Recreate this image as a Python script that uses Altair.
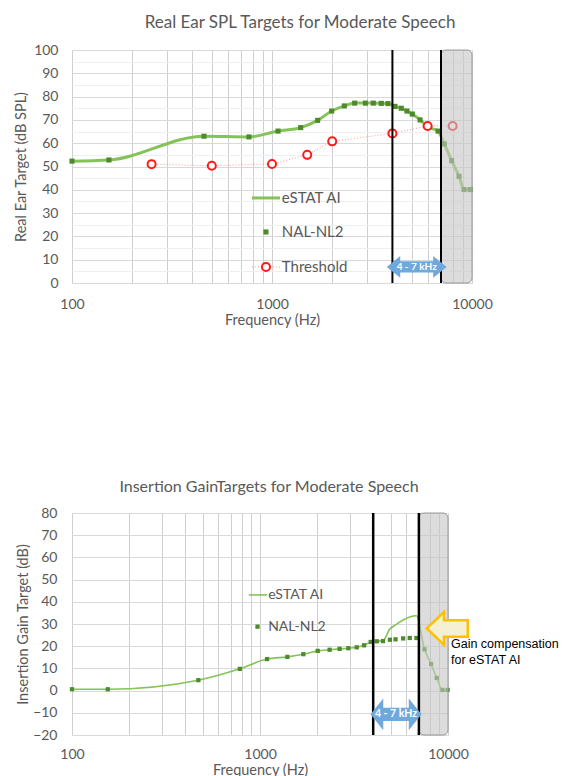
import math
import altair as alt
import pandas as pd

# ---------------- data: Real Ear SPL (top) ----------------
top_freq = [100, 153, 457, 767, 1072, 1391, 1691, 1988, 2300, 2590, 2930, 3210, 3520,
            3800, 4120, 4430, 4730, 5030, 5500, 6030, 6760, 7270, 7910, 8610, 9120, 9790]
top_estat = [52.3, 52.8, 63.0, 62.7, 65.2, 66.7, 69.8, 73.8, 76.0, 77.2, 77.2, 77.2, 77.1,
             77.0, 75.8, 75.0, 73.8, 72.5, 70.0, 66.9, 65.2, 59.7, 52.5, 45.8, 40.1, 40.1]
top_nal = [52.3, 52.8, 63.0, 62.7, 65.2, 66.7, 69.8, 73.8, 76.0, 77.2, 77.2, 77.2, 77.1,
           77.0, 75.8, 75.0, 73.8, 72.5, 70.0, 66.9, 65.2, 59.7, 52.5, 45.8, 40.1, 40.1]
thr_freq = [250, 500, 1000, 1500, 2000, 4000, 6000, 8000]
thr_val = [51.0, 50.3, 51.1, 55.0, 60.8, 64.2, 67.4, 67.4]

# ---------------- data: Insertion gain (bottom) ----------------
bot_freq = [100, 155, 470, 781, 1090, 1398, 1700, 2028, 2345, 2650, 2950, 3270, 3580,
            3880, 4180, 4510, 4910, 5260, 5775, 6260, 6790, 7500, 8130, 8710, 9340, 9950]
bot_estat = [0.6, 0.6, 4.7, 9.8, 14.2, 15.2, 16.4, 17.9, 18.4, 18.8, 19.1, 19.5, 20.4,
             21.9, 22.2, 22.5, 27.8, 29.6, 31.8, 33.2, 33.7, 18.6, 12.0, 5.7, 0.3, 0.3]
bot_nal = [0.6, 0.6, 4.7, 9.8, 14.2, 15.2, 16.4, 17.9, 18.4, 18.8, 19.1, 19.5, 20.4,
           21.9, 22.2, 22.3, 22.9, 23.1, 23.5, 23.7, 23.7, 18.6, 12.0, 5.7, 0.3, 0.3]

x_grid = [100, 200, 300, 400, 500, 600, 700, 800, 900,
          1000, 2000, 3000, 4000, 5000, 6000, 7000, 8000, 9000, 10000]
top_legend_labels = ["eSTAT AI", "NAL-NL2", "Threshold"]
bot_legend_labels = ["eSTAT AI", "NAL-NL2"]
band_edges = [4000, 7000]
band_label = "4 - 7 kHz"
shade_range = [7000, 10000]
note_text = ["Gain compensation", "for eSTAT AI"]

# ---------------- styles ----------------
LIGHT = "#84c35a"
DARK = "#4e8a2c"
RED = "#ff1a1a"
PINK = "#f29a9a"
TXT = "#595959"
BLUE = "#6fa9dc"
FONT = "Lato"

ARROW_TOP = ("M-1,0 L-0.55,-0.36 L-0.55,-0.19 L0.55,-0.19 L0.55,-0.36 L1,0 "
             "L0.55,0.36 L0.55,0.19 L-0.55,0.19 L-0.55,0.36 Z")
ARROW_BOT = ("M-1,0 L-0.5,-0.62 L-0.5,-0.26 L0.5,-0.26 L0.5,-0.62 L1,0 "
             "L0.5,0.62 L0.5,0.26 L-0.5,0.26 L-0.5,0.62 Z")
ARROW_LEFT = "M-1,0 L-0.16,-0.8 L-0.16,-0.4 L1,-0.4 L1,0.4 L-0.16,0.4 L-0.16,0.8 Z"

LABEL_EXPR = "(datum.value == 100 || datum.value == 1000 || datum.value == 10000) ? datum.label : ''"


def x_enc(label_pad, title_pad, field="f"):
    return alt.X(f"{field}:Q",
                 scale=alt.Scale(type="log", domain=[100, 10000], nice=False),
                 axis=alt.Axis(values=x_grid, format="d", labelExpr=LABEL_EXPR,
                               labelFlush=False, labelOverlap=False,
                               title="Frequency (Hz)", domain=False, ticks=False,
                               labelPadding=label_pad, titlePadding=title_pad,
                               gridColor="#cfcfcf"))


def y_top(field="v"):
    return alt.Y(f"{field}:Q", scale=alt.Scale(domain=[0, 100], nice=False),
                 axis=alt.Axis(values=list(range(0, 101, 5)),
                               labelExpr="datum.value % 10 == 0 ? datum.label : ''",
                               gridColor={"condition": {"test": "datum.value % 10 == 0",
                                                        "value": "#d9d9d9"},
                                          "value": "#efefef"},
                               title="Real Ear Target (dB SPL)", domain=False, ticks=False,
                               labelPadding=14, titlePadding=5))


def y_bot(field="v"):
    return alt.Y(f"{field}:Q", scale=alt.Scale(domain=[-20, 80], nice=False),
                 axis=alt.Axis(values=list(range(-20, 81, 10)),
                               gridColor="#d9d9d9",
                               title="Insertion Gain Target (dB)", domain=False, ticks=False,
                               labelPadding=15, titlePadding=2))


# ================= TOP CHART =================
XT = x_enc(14, 2)
YT = y_top()

top_df = pd.DataFrame({"f": top_freq, "estat": top_estat, "nal": top_nal})
thr_df = pd.DataFrame({"f": thr_freq, "v": thr_val})

t_line = alt.Chart(top_df).mark_line(color=LIGHT, strokeWidth=3, interpolate="monotone").encode(
    x=XT, y=y_top("estat"))
t_nal = alt.Chart(top_df).mark_point(shape="square", filled=True, color=DARK, size=26, opacity=1).encode(
    x=XT, y=y_top("nal"))
t_thr_line = alt.Chart(thr_df).mark_line(color=PINK, strokeWidth=1, strokeDash=[1, 2]).encode(x=XT, y=YT)
t_thr_pts = alt.Chart(thr_df).mark_point(shape="circle", filled=True, fill="white", stroke=RED,
                                          strokeWidth=2, size=65, opacity=1).encode(x=XT, y=YT)

t_shade = alt.Chart(pd.DataFrame({"f": [shade_range[0]], "f2": [shade_range[1]],
                                  "v": [0], "v2": [100]})).mark_rect(
    cornerRadius=5, fill="#c4c4c4", fillOpacity=0.6, stroke="#9a9a9a", strokeWidth=1).encode(
    x=XT, x2="f2:Q", y=YT, y2="v2:Q")
t_rules = alt.Chart(pd.DataFrame({"f": band_edges})).mark_rule(color="black", strokeWidth=2).encode(x=XT)

band_mid = math.sqrt(band_edges[0] * band_edges[1])
t_arrow_df = pd.DataFrame({"f": [band_mid], "v": [6.9]})
t_arrow = alt.Chart(t_arrow_df).mark_point(shape=ARROW_TOP, size=60 * 60, filled=True, color=BLUE,
                                           opacity=1, strokeWidth=0).encode(x=XT, y=YT)
t_arrow_txt = alt.Chart(t_arrow_df).mark_text(text=band_label, color="white", fontWeight="bold",
                                              fontSize=10, font=FONT).encode(x=XT, y=YT)

# legend (top)
tl_line = alt.Chart(pd.DataFrame({"f": [794], "f2": [1096], "v": [36.5]})).mark_rule(
    color=LIGHT, strokeWidth=3).encode(x=XT, x2="f2:Q", y=YT)
tl_sq = alt.Chart(pd.DataFrame({"f": [933], "v": [21.9]})).mark_point(
    shape="square", filled=True, color=DARK, size=26, opacity=1).encode(x=XT, y=YT)
tl_dot = alt.Chart(pd.DataFrame({"f": [794], "f2": [1096], "v": [6.9]})).mark_rule(
    color=PINK, strokeWidth=1, strokeDash=[1, 2]).encode(x=XT, x2="f2:Q", y=YT)
tl_circ = alt.Chart(pd.DataFrame({"f": [933], "v": [6.9]})).mark_point(
    shape="circle", filled=True, fill="white", stroke=RED, strokeWidth=2, size=65, opacity=1).encode(x=XT, y=YT)
tl_txt = alt.Chart(pd.DataFrame({"f": [1120] * 3, "v": [36.5, 21.9, 6.9], "t": top_legend_labels})).mark_text(
    align="left", baseline="middle", fontSize=15, color=TXT, font=FONT).encode(x=XT, y=YT, text="t:N")

top = alt.layer(t_line, t_nal, t_thr_line, t_thr_pts, t_shade, t_rules, t_arrow, t_arrow_txt,
                tl_line, tl_sq, tl_dot, tl_circ, tl_txt).properties(
    width=400, height=233,
    title=alt.TitleParams("Real Ear SPL Targets for Moderate Speech", dx=28, offset=11, fontSize=17))

# ================= BOTTOM CHART =================
XB = x_enc(12, 2)
YB = y_bot()

bot_df = pd.DataFrame({"f": bot_freq, "estat": bot_estat, "nal": bot_nal})

b_line = alt.Chart(bot_df).mark_line(color=LIGHT, strokeWidth=1.6, interpolate="monotone").encode(
    x=XB, y=y_bot("estat"))
b_nal = alt.Chart(bot_df).mark_point(shape="square", filled=True, color=DARK, size=18, opacity=1).encode(
    x=XB, y=y_bot("nal"))
b_shade = alt.Chart(pd.DataFrame({"f": [shade_range[0]], "f2": [shade_range[1]],
                                  "v": [-20], "v2": [80]})).mark_rect(
    cornerRadius=5, fill="#c4c4c4", fillOpacity=0.6, stroke="#9a9a9a", strokeWidth=1).encode(
    x=XB, x2="f2:Q", y=YB, y2="v2:Q")
b_rules = alt.Chart(pd.DataFrame({"f": band_edges})).mark_rule(color="black", strokeWidth=2.5).encode(x=XB)
b_arrow_df = pd.DataFrame({"f": [band_mid], "v": [-10.7]})
b_arrow = alt.Chart(b_arrow_df).mark_point(shape=ARROW_BOT, size=51 * 51, filled=True, color=BLUE,
                                           opacity=1, strokeWidth=0).encode(x=XB, y=YB)
b_arrow_txt = alt.Chart(b_arrow_df).mark_text(text=band_label, color="white", fontWeight="bold",
                                              fontSize=10.5, font=FONT).encode(x=XB, y=YB)

# yellow "gain compensation" arrow + note
b_yarrow = alt.Chart(pd.DataFrame({"f": [9910], "v": [28.0]})).mark_point(
    shape=ARROW_LEFT, size=41 * 41, filled=True, fill="#f6f0d2", stroke="#ffc000",
    strokeWidth=2.5, opacity=1).encode(x=XB, y=YB)
b_note = alt.Chart(pd.DataFrame({"f": [10370], "v": [23.6]})).mark_text(
    text=note_text, align="left", baseline="top", fontSize=12.5, lineHeight=16,
    color="black", font="Liberation Sans").encode(x=XB, y=YB)

# legend (bottom)
bl_line = alt.Chart(pd.DataFrame({"f": [872], "f2": [1089], "v": [43.1]})).mark_rule(
    color=LIGHT, strokeWidth=1.6).encode(x=XB, x2="f2:Q", y=YB)
bl_sq = alt.Chart(pd.DataFrame({"f": [970], "v": [28.8]})).mark_point(
    shape="square", filled=True, color=DARK, size=18, opacity=1).encode(x=XB, y=YB)
bl_txt = alt.Chart(pd.DataFrame({"f": [1105] * 2, "v": [43.1, 28.8], "t": bot_legend_labels})).mark_text(
    align="left", baseline="middle", fontSize=14, color=TXT, font=FONT).encode(x=XB, y=YB, text="t:N")

bottom = alt.layer(b_line, b_nal, b_shade, b_rules, b_arrow, b_arrow_txt, b_yarrow, b_note,
                   bl_line, bl_sq, bl_txt).properties(
    width=376, height=222,
    title=alt.TitleParams("Insertion GainTargets for Moderate Speech", dx=9, offset=11, fontSize=16))

chart = alt.concat(top, bottom, columns=1, spacing=152, align="none").properties(
    padding={"left": 5, "top": 6, "right": 0, "bottom": 5}).configure_view(
    stroke=None).configure_axis(
    labelFont=FONT, titleFont=FONT, labelColor=TXT, titleColor=TXT,
    labelFontSize=14, titleFontSize=14.5, titleFontWeight="normal").configure_title(
    font=FONT, color=TXT, fontWeight="normal")

chart.save("out.html", embed_options={"renderer": "svg", "actions": False})
